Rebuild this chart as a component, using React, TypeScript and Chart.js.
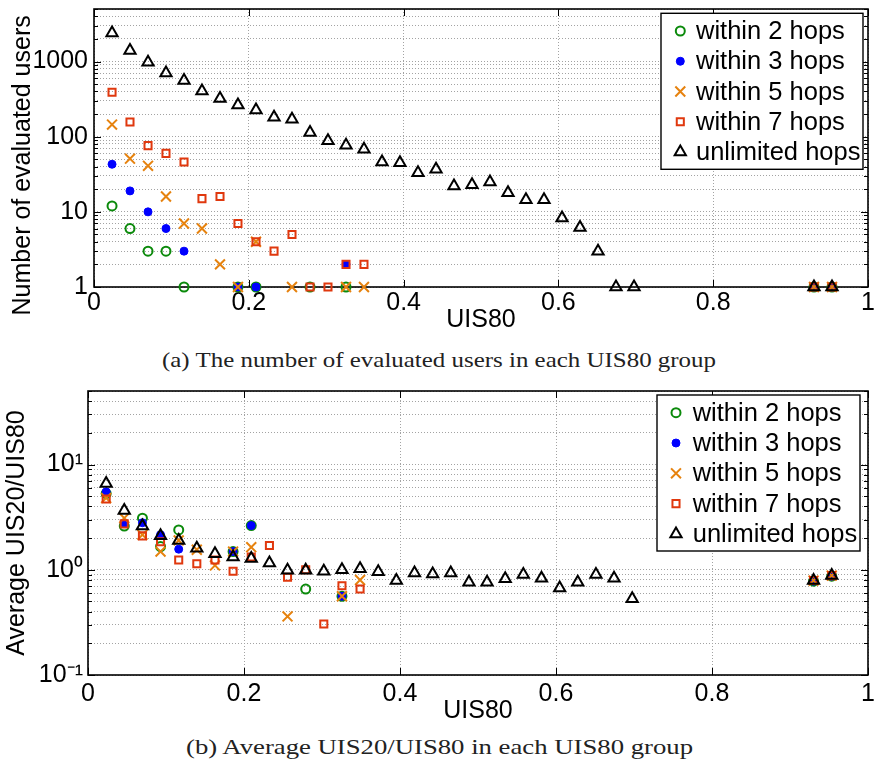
import React, { useEffect, useLayoutEffect, useRef } from 'react';
import { Chart, registerables } from 'chart.js';

Chart.register(...registerables);

// ---------------- DATA ----------------
// UIS80 group centres (x positions of the groups that contain users)
const UIS80_BINS = [
  0.0233, 0.0465, 0.0698, 0.093, 0.1163, 0.1395, 0.1628, 0.186, 0.2093, 0.2326,
  0.2558, 0.2791, 0.3023, 0.3256, 0.3488, 0.3721, 0.3953, 0.4186, 0.4419, 0.4651,
  0.4884, 0.5116, 0.5349, 0.5581, 0.5814, 0.6047, 0.6279, 0.6512, 0.6744, 0.6977,
  0.9302, 0.9535,
];

const SERIES_LABELS = ['within 2 hops', 'within 3 hops', 'within 5 hops', 'within 7 hops', 'unlimited hops'];

// (a) number of evaluated users
const COUNT_WITHIN_2 = [12, 6, 3, 3, 1, null, null, 1, 1, null, null, 1, null, 1, null,
  null, null, null, null, null, null, null, null, null, null, null, null, null, null, null, 1, 1];
const COUNT_WITHIN_3 = [43, 19, 10, 6, 3, null, null, 1, 1, null, null, null, null, 2, null,
  null, null, null, null, null, null, null, null, null, null, null, null, null, null, null, 1, 1];
const COUNT_WITHIN_5 = [145, 51, 41, 16, 7, 6, 2, 1, 4, null, 1, null, null, 1, 1,
  null, null, null, null, null, null, null, null, null, null, null, null, null, null, null, 1, 1];
const COUNT_WITHIN_7 = [390, 157, 76, 60, 46, 15, 16, 7, 4, 3, 5, 1, 1, 2, 2,
  null, null, null, null, null, null, null, null, null, null, null, null, null, null, null, 1, 1];
const COUNT_UNLIMITED = [2400, 1400, 980, 705, 560, 405, 323, 264, 227, 182, 170, 114, 88, 77, 68,
  46, 45, 33, 37, 22, 23, 25, 18, 14.5, 14.5, 8.3, 6.2, 3, 1, 1, 1, 1];

// (b) average UIS20/UIS80
const RATIO_WITHIN_2 = [5.3, 2.6, 3.09, 1.66, 2.39, null, null, 1.49, 2.63, null, null, 0.656, null, 0.56, null,
  null, null, null, null, null, null, null, null, null, null, null, null, null, null, null, 0.78, 0.87];
const RATIO_WITHIN_3 = [5.5, 2.77, 2.8, 2.15, 1.57, null, null, 1.49, 2.63, null, null, null, null, 0.56, null,
  null, null, null, null, null, null, null, null, null, null, null, null, null, null, null, 0.78, 0.87];
const RATIO_WITHIN_5 = [4.8, 3.1, 2.15, 1.49, 1.9, 1.55, 1.1, 1.49, 1.64, null, 0.36, null, null, 0.56, 0.8,
  null, null, null, null, null, null, null, null, null, null, null, null, null, null, null, 0.79, 0.88];
const RATIO_WITHIN_7 = [4.7, 2.73, 2.1, 1.85, 1.24, 1.14, 1.24, 0.97, 1.32, 1.7, 0.85, 1.0, 0.305, 0.705, 0.656,
  null, null, null, null, null, null, null, null, null, null, null, null, null, null, null, 0.79, 0.88];
const RATIO_UNLIMITED = [6.6, 3.65, 2.6, 2.1, 1.9, 1.6, 1.42, 1.32, 1.28, 1.16, 0.99, 0.99, 0.97, 1.0, 1.02,
  0.96, 0.79, 0.93, 0.91, 0.93, 0.76, 0.76, 0.82, 0.9, 0.83, 0.67, 0.76, 0.9, 0.83, 0.53, 0.79, 0.88];

// axis ticks / grid
const X_TICK_VALUES = [0, 0.2, 0.4, 0.6, 0.8, 1];
const X_TICK_LABELS = ['0', '0.2', '0.4', '0.6', '0.8', '1'];
const TOP_Y_GRID = [1, 2, 3, 4, 5, 6, 7, 8, 9, 10, 20, 30, 40, 50, 60, 70, 80, 90,
  100, 200, 300, 400, 500, 600, 700, 800, 900, 1000, 2000, 3000, 4000, 5000];
const TOP_Y_TICK_VALUES = [1, 10, 100, 1000];
const TOP_Y_TICK_LABELS = ['1', '10', '100', '1000'];
const BOTTOM_Y_GRID = [0.1, 0.2, 0.3, 0.4, 0.5, 0.6, 0.7, 0.8, 0.9, 1, 2, 3, 4, 5, 6, 7, 8, 9,
  10, 20, 30, 40, 50];
const BOTTOM_Y_TICK_VALUES = [0.1, 1, 10];
const BOTTOM_Y_TICK_LABELS = ['10⁻¹', '10⁰', '10¹'];

const CAPTION_A = '(a) The number of evaluated users in each UIS80 group';
const CAPTION_B = '(b) Average UIS20/UIS80 in each UIS80 group';

// ---------------- STYLE ----------------
const FONT = '"Liberation Sans", Arial, Helvetica, sans-serif';
const STYLES = [
  { color: '#0b8a0b', pointStyle: 'circle', radius: 4.5, lineWidth: 2, fill: false },
  { color: '#0000ff', pointStyle: 'circle', radius: 4, lineWidth: 1, fill: true },
  { color: '#e6820e', pointStyle: 'crossRot', radius: 7, lineWidth: 2, fill: false },
  { color: '#e0380e', pointStyle: 'rect', radius: 5, lineWidth: 2, fill: false },
  { color: '#000000', pointStyle: 'triangle', radius: 6.5, lineWidth: 2, fill: false },
];

function drawMarker(ctx: CanvasRenderingContext2D, st: any, x: number, y: number) {
  ctx.save();
  ctx.strokeStyle = st.color;
  ctx.fillStyle = st.color;
  ctx.lineWidth = st.lineWidth;
  const r = st.radius;
  ctx.beginPath();
  if (st.pointStyle === 'circle') {
    ctx.arc(x, y, r, 0, Math.PI * 2);
    if (st.fill) ctx.fill();
    ctx.stroke();
  } else if (st.pointStyle === 'crossRot') {
    const o = r * Math.SQRT1_2;
    ctx.moveTo(x - o, y - o); ctx.lineTo(x + o, y + o);
    ctx.moveTo(x - o, y + o); ctx.lineTo(x + o, y - o);
    ctx.stroke();
  } else if (st.pointStyle === 'rect') {
    const s = r * Math.SQRT1_2;
    ctx.rect(x - s, y - s, 2 * s, 2 * s);
    ctx.stroke();
  } else if (st.pointStyle === 'triangle') {
    ctx.moveTo(x, y - r);
    ctx.lineTo(x + r * 0.866, y + r / 2);
    ctx.lineTo(x - r * 0.866, y + r / 2);
    ctx.closePath();
    ctx.stroke();
  }
  ctx.restore();
}

const framePlugin = {
  id: 'matlabFrame',
  beforeDatasetsDraw(chart: any) {
    const { ctx, chartArea: a, scales } = chart;
    ctx.save();
    ctx.strokeStyle = '#000';
    ctx.lineWidth = 1.6;
    ctx.strokeRect(a.left, a.top, a.right - a.left, a.bottom - a.top);
    ctx.lineWidth = 1;
    ctx.beginPath();
    for (const t of scales.y.ticks) {
      const py = Math.round(scales.y.getPixelForValue(t.value)) + 0.5;
      const len = t.label ? 7 : 4;
      ctx.moveTo(a.left, py); ctx.lineTo(a.left + len, py);
      ctx.moveTo(a.right, py); ctx.lineTo(a.right - len, py);
    }
    for (const t of scales.x.ticks) {
      const px = Math.round(scales.x.getPixelForValue(t.value)) + 0.5;
      ctx.moveTo(px, a.bottom); ctx.lineTo(px, a.bottom - 7);
      ctx.moveTo(px, a.top); ctx.lineTo(px, a.top + 7);
    }
    ctx.stroke();
    ctx.restore();
  },
};

const legendPlugin = {
  id: 'boxLegend',
  afterDraw(chart: any, _args: any, opts: any) {
    const { ctx, chartArea: a } = chart;
    const x0 = a.right - opts.rightGap - opts.width;
    const y0 = a.top + opts.topGap;
    ctx.save();
    ctx.fillStyle = '#fff';
    ctx.fillRect(x0, y0, opts.width, opts.height);
    ctx.strokeStyle = '#000';
    ctx.lineWidth = 1.4;
    ctx.strokeRect(x0, y0, opts.width, opts.height);
    chart.data.datasets.forEach((ds: any, i: number) => {
      const cy = y0 + opts.firstRow + i * opts.rowStep;
      drawMarker(ctx, STYLES[i], x0 + opts.markerX, cy);
      ctx.fillStyle = '#000';
      ctx.font = `25.5px ${FONT}`;
      ctx.textBaseline = 'middle';
      ctx.textAlign = 'left';
      ctx.fillText(ds.label, x0 + opts.textX, cy + 1);
    });
    ctx.restore();
  },
};

function labelFor(v: number, values: number[], labels: string[]) {
  for (let i = 0; i < values.length; i++) {
    if (Math.abs(v - values[i]) <= Math.max(Math.abs(values[i]) * 1e-6, 1e-9)) return labels[i];
  }
  return '';
}

function buildConfig(spec: any) {
  const datasets = spec.series.map((vals: (number | null)[], i: number) => {
    const st = STYLES[i];
    const pts: any[] = [];
    UIS80_BINS.forEach((x, j) => {
      const v = vals[j];
      if (v !== null && v !== undefined) pts.push({ x, y: v });
    });
    return {
      label: SERIES_LABELS[i],
      data: pts,
      showLine: false,
      pointStyle: st.pointStyle,
      pointRadius: st.radius,
      pointHoverRadius: st.radius,
      pointBorderWidth: st.lineWidth,
      pointBorderColor: st.color,
      pointBackgroundColor: st.fill ? st.color : 'rgba(0,0,0,0)',
      borderColor: st.color,
      backgroundColor: st.fill ? st.color : 'rgba(0,0,0,0)',
      order: 5 - i,
      clip: false,
    };
  });
  const gridCommon = { color: '#a3a3a3', lineWidth: 1, drawTicks: false };
  const borderCommon = { display: false, dash: [1, 2] };
  return {
    type: 'scatter',
    data: { datasets },
    plugins: [framePlugin, legendPlugin],
    options: {
      animation: false,
      responsive: false,
      devicePixelRatio: 1,
      events: [],
      layout: { padding: spec.padding },
      plugins: {
        legend: { display: false },
        tooltip: { enabled: false },
        boxLegend: spec.legend,
      },
      scales: {
        x: {
          type: 'linear',
          position: 'bottom',
          min: 0,
          max: 1,
          ticks: {
            stepSize: 0.2,
            color: '#000',
            font: { family: FONT, size: 25 },
            padding: spec.xTickPad,
            maxRotation: 0,
            autoSkip: false,
            callback: (v: any) => labelFor(Number(v), X_TICK_VALUES, X_TICK_LABELS),
          },
          grid: gridCommon,
          border: borderCommon,
          title: {
            display: true,
            text: 'UIS80',
            color: '#000',
            font: { family: FONT, size: 25 },
            padding: { top: 0, bottom: 0 },
          },
          afterFit: (s: any) => {
            s.height = spec.xHeight;
            s.paddingLeft = 0;
            s.paddingRight = 0;
          },
        },
        y: {
          type: 'logarithmic',
          position: 'left',
          min: spec.yMin,
          max: spec.yMax,
          afterBuildTicks: (s: any) => {
            s.ticks = spec.yGrid.map((v: number) => ({ value: v }));
          },
          ticks: {
            autoSkip: false,
            color: '#000',
            font: { family: FONT, size: 25 },
            padding: spec.yTickPad,
            callback: (v: any) => labelFor(Number(v), spec.yTickValues, spec.yTickLabels),
          },
          grid: gridCommon,
          border: borderCommon,
          title: {
            display: true,
            text: spec.yTitle,
            color: '#000',
            font: { family: FONT, size: 25 },
            padding: { top: spec.yTitlePad, bottom: 0 },
          },
          afterFit: (s: any) => {
            s.width = spec.yWidth;
            s.paddingTop = 0;
            s.paddingBottom = 0;
          },
        },
      },
    },
  };
}

const TOP_SPEC = {
  top: 0,
  height: 335,
  padding: { left: 0, right: 5, top: 3, bottom: 0 },
  yWidth: 94,
  xHeight: 48,
  xTickPad: 1,
  yTickPad: 6,
  yTitlePad: 8,
  yTitle: 'Number of evaluated users     ',
  yMin: 1,
  yMax: 5000,
  yGrid: TOP_Y_GRID,
  yTickValues: TOP_Y_TICK_VALUES,
  yTickLabels: TOP_Y_TICK_LABELS,
  series: [COUNT_WITHIN_2, COUNT_WITHIN_3, COUNT_WITHIN_5, COUNT_WITHIN_7, COUNT_UNLIMITED],
  legend: { rightGap: 5, topGap: 4.3, width: 202, height: 156, markerX: 19.3, textX: 35, firstRow: 17.7, rowStep: 30.25 },
};

const BOTTOM_SPEC = {
  top: 380,
  height: 346,
  padding: { left: 0, right: 6, top: 11, bottom: 0 },
  yWidth: 88,
  xHeight: 51,
  xTickPad: 4,
  yTickPad: 5,
  yTitlePad: 2,
  yTitle: 'Average UIS20/UIS80',
  yMin: 0.1,
  yMax: 50,
  yGrid: BOTTOM_Y_GRID,
  yTickValues: BOTTOM_Y_TICK_VALUES,
  yTickLabels: BOTTOM_Y_TICK_LABELS,
  series: [RATIO_WITHIN_2, RATIO_WITHIN_3, RATIO_WITHIN_5, RATIO_WITHIN_7, RATIO_UNLIMITED],
  legend: { rightGap: 8, topGap: 4, width: 203, height: 156, markerX: 19, textX: 35.7, firstRow: 17.7, rowStep: 30.3 },
};

function Panel({ spec }: { spec: any }) {
  const ref = useRef<HTMLCanvasElement>(null);
  useEffect(() => {
    if (!ref.current) return;
    const chart = new Chart(ref.current, buildConfig(spec) as any);
    return () => chart.destroy();
  }, [spec]);
  return (
    <canvas
      ref={ref}
      width={877}
      height={spec.height}
      style={{ position: 'absolute', left: 0, top: spec.top, width: 877, height: spec.height }}
    />
  );
}

function Caption({ text, left, top, width }: { text: string; left: number; top: number; width: number }) {
  const ref = useRef<HTMLDivElement>(null);
  useLayoutEffect(() => {
    const el = ref.current;
    if (!el) return;
    el.style.transform = 'none';
    const w = el.getBoundingClientRect().width;
    if (w > 0) el.style.transform = `scaleX(${width / w})`;
  }, [text, width]);
  return (
    <div
      ref={ref}
      style={{
        position: 'absolute',
        left,
        top,
        whiteSpace: 'nowrap',
        fontFamily: '"Liberation Serif", "Times New Roman", serif',
        fontSize: 21,
        lineHeight: '24px',
        color: '#222',
        transformOrigin: '0 0',
        display: 'inline-block',
      }}
    >
      {text}
    </div>
  );
}

export default function App() {
  return (
    <div style={{ position: 'absolute', left: 0, top: 0, width: 877, height: 762, background: '#fff', overflow: 'hidden' }}>
      <Panel spec={TOP_SPEC} />
      <Caption text={CAPTION_A} left={162} top={348} width={554} />
      <Panel spec={BOTTOM_SPEC} />
      <Caption text={CAPTION_B} left={186} top={735} width={507} />
    </div>
  );
}
